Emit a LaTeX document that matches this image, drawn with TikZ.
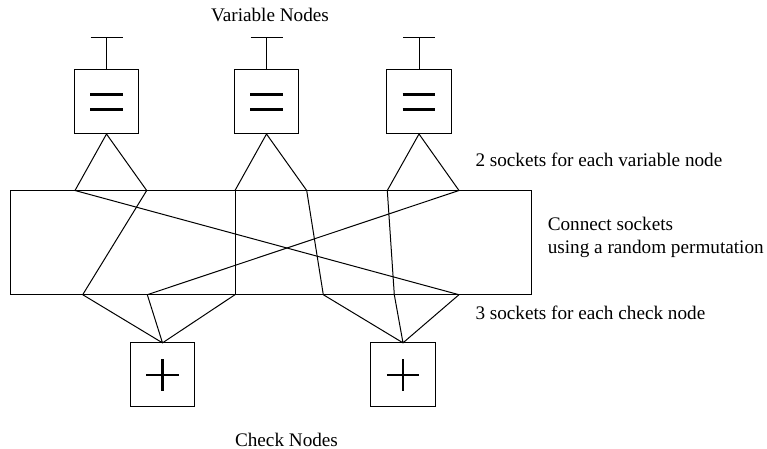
\documentclass[tikz,border=0pt]{standalone}
\usepackage{fontspec}
\setmainfont{Liberation Serif}
\usetikzlibrary{fit,calc}
\begin{document}
\begin{tikzpicture}[x=0.5pt,y=-0.5pt, line width=0.5pt, line join=miter,
  box/.style={draw, minimum width=32.2pt, minimum height=32pt, inner sep=0pt, outer sep=0pt},
  lbl/.style={font=\fontsize{9.6}{11.5}\selectfont, inner sep=0pt, anchor=base west},
  sym/.style={line width=1.2pt}]
\useasboundingbox (0,0) rectangle (767,449);

% variable nodes
\node[box] (v1) at (106.5,102) {};
\node[box] (v2) at (266.5,102) {};
\node[box] (v3) at (419,102) {};
\foreach \v in {v1,v2,v3}{
  \coordinate (t\v) at ($(\v.north)+(0,-32)$);
  \draw (\v.north) -- (t\v) (t\v) +(-16,0) -- +(16,0);
  \draw[sym] ([xshift=-8.15pt,yshift=3.7pt]\v.center) -- ([xshift=8.15pt,yshift=3.7pt]\v.center)
             ([xshift=-8.15pt,yshift=-3.7pt]\v.center) -- ([xshift=8.15pt,yshift=-3.7pt]\v.center);
}

% check nodes
\node[box] (c1) at (162.5,374.85) {};
\node[box] (c2) at (403,374.85) {};
\foreach \c in {c1,c2}{
  \draw[sym] ([xshift=-8.1pt]\c.center) -- ([xshift=8.1pt]\c.center)
             ([yshift=-8pt]\c.center) -- ([yshift=8pt]\c.center);
}

% permutation box
\node[draw, inner sep=0pt, outer sep=0pt, fit={(10,190.5) (531,294.7)}] (perm) {};

% sockets
\coordinate (a1) at (75,190.5);
\coordinate (a2) at (146.7,190.5);
\coordinate (a3) at (235,190.5);
\coordinate (a4) at (306.7,190.5);
\coordinate (a5) at (387.3,190.5);
\coordinate (a6) at (459,190.5);
\coordinate (b1) at (82.7,294.7);
\coordinate (b2) at (147.3,294.7);
\coordinate (b3) at (235,294.7);
\coordinate (b4) at (323.3,294.7);
\coordinate (b5) at (394.3,294.7);
\coordinate (b6) at (459,294.7);

% sockets of variable nodes
\draw (a1) -- (v1.south) -- (a2);
\draw (a3) -- (v2.south) -- (a4);
\draw (a5) -- (v3.south) -- (a6);

% sockets of check nodes
\draw (b1) -- (c1.north) -- (b3) (b2) -- (c1.north);
\draw (b4) -- (c2.north) -- (b6) (b5) -- (c2.north);

% permutation
\draw (a1) -- (b6);
\draw (a2) -- (b1);
\draw (a3) -- (b3);
\draw (a4) -- (b4);
\draw (a5) -- (b5);
\draw (a6) -- (b2);

% labels
\node[lbl, anchor=base] (tv) at (270,21.7) {Variable Nodes};
\node[lbl, anchor=base] (tc) at (286.5,446) {Check Nodes};
\node[lbl] (s2) at (475,166.5) {2 sockets for each variable node};
\node[lbl] (cs) at (547.3,230.7) {Connect sockets};
\node[lbl] (rp) at (547.3,254) {using a random permutation};
\node[lbl] (s3) at (475,319.3) {3 sockets for each check node};
\end{tikzpicture}
\end{document}
